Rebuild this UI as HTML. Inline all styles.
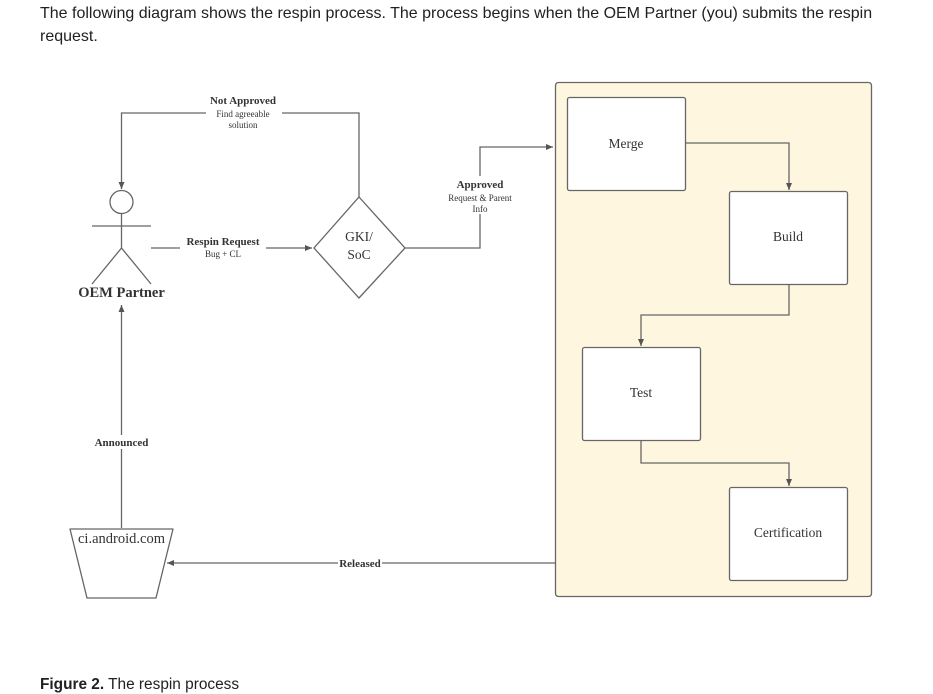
<!DOCTYPE html>
<html><head><meta charset="utf-8"><style>
html,body{margin:0;padding:0;background:#fff;width:933px;height:694px;overflow:hidden;position:relative}
.t{position:absolute;left:40px;font-family:"Liberation Sans",sans-serif;font-size:16px;color:#202124;line-height:23px}
svg{position:absolute;left:0;top:0}
svg text{font-family:"Liberation Serif",serif;fill:#333}
</style></head><body>
<div class="t" style="top:2px;width:880px">The following diagram shows the respin process. The process begins when the OEM Partner (you) submits the respin request.</div>
<div class="t" style="top:673px;font-size:15.4px"><b>Figure 2.</b> The respin process</div>
<svg width="933" height="694" viewBox="0 0 933 694">
<defs><marker id="a" markerWidth="8" markerHeight="8" refX="7" refY="4" orient="auto" markerUnits="userSpaceOnUse"><path d="M0,1 L7,4 L0,7z" fill="#555"/></marker></defs>
<g stroke="#666" stroke-width="1.3" fill="none">
<rect x="555.5" y="82.5" width="316" height="514" rx="3" fill="#fff6e0"/>
<rect x="567.5" y="97.5" width="118" height="93" rx="2" fill="#fff"/>
<rect x="729.5" y="191.5" width="118" height="93" rx="2" fill="#fff"/>
<rect x="582.5" y="347.5" width="118" height="93" rx="2" fill="#fff"/>
<rect x="729.5" y="487.5" width="118" height="93" rx="2" fill="#fff"/>
<path d="M686,143 H789 V190" marker-end="url(#a)"/>
<path d="M789,285 V315 H641 V346" marker-end="url(#a)"/>
<path d="M641,441 V463 H789 V486" marker-end="url(#a)"/>
<circle cx="121.5" cy="202" r="11.5"/>
<path d="M92,226 H151 M121.5,214 V248 L92,284 M121.5,248 L151,284"/>
<path d="M359,197 V113 H121.5 V189" marker-end="url(#a)"/>
<path d="M359,197 L405,248 L359,298 L314,248 Z"/>
<path d="M151,248 H312" marker-end="url(#a)"/>
<path d="M405,248 H480 V147 H553" marker-end="url(#a)"/>
<path d="M121.5,528 V305" marker-end="url(#a)"/>
<path d="M70,529 H173 L156,598 H87 Z" stroke-linejoin="round"/>
<path d="M555,563 H167" marker-end="url(#a)"/>
</g>
<g text-anchor="middle">
<rect x="206" y="92" width="76" height="40" fill="#fff"/>
<text x="243" y="104" font-size="11" font-weight="bold">Not Approved</text>
<text x="243" y="117" font-size="9">Find agreeable</text>
<text x="243" y="128" font-size="9">solution</text>
<rect x="180" y="233" width="86" height="26" fill="#fff"/>
<text x="223" y="245" font-size="11" font-weight="bold">Respin Request</text>
<text x="223" y="257" font-size="9">Bug + CL</text>
<rect x="442" y="176" width="76" height="38" fill="#fff"/>
<text x="480" y="188" font-size="11" font-weight="bold">Approved</text>
<text x="480" y="201" font-size="9">Request &amp; Parent</text>
<text x="480" y="212" font-size="9">Info</text>
<text x="121.5" y="297" font-size="14.5" font-weight="bold">OEM Partner</text>
<rect x="92" y="435" width="60" height="14" fill="#fff"/>
<text x="121.5" y="446" font-size="11" font-weight="bold">Announced</text>
<text x="121.5" y="543" font-size="14.5">ci.android.com</text>
<rect x="338" y="556" width="44" height="13" fill="#fff"/>
<text x="360" y="567" font-size="11" font-weight="bold">Released</text>
<text x="359" y="241" font-size="13.5">GKI/</text>
<text x="359" y="259" font-size="13.5">SoC</text>
<text x="626" y="148" font-size="13.5">Merge</text>
<text x="788" y="241" font-size="13.5">Build</text>
<text x="641" y="397" font-size="13.5">Test</text>
<text x="788" y="537" font-size="13.5">Certification</text>
</g>
</svg>
</body></html>
